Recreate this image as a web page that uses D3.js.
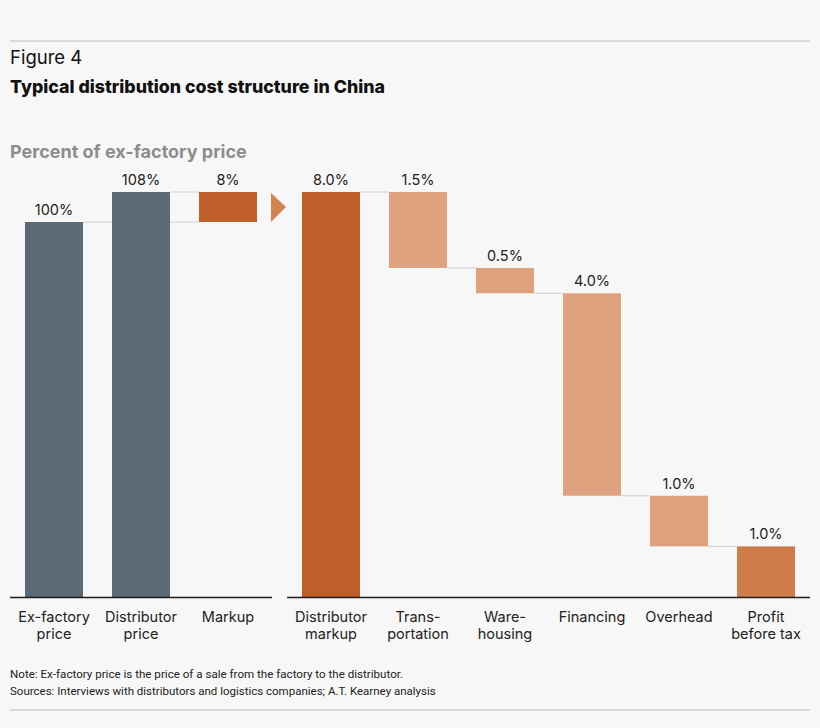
<!DOCTYPE html>
<html>
<head>
<meta charset="utf-8">
<script src="https://cdn.jsdelivr.net/npm/d3@7"></script>
<style>
  body { margin: 0; background: #f7f7f7; }
  svg { display: block; font-family: Inter, "Open Sans", sans-serif; }
</style>
</head>
<body>
<script>
// left panel: price build-up
const leftCats = ["Ex-factory|price", "Distributor|price", "Markup"];
const leftStart = [0, 0, 100];
const leftEnd = [100, 108, 108];
const leftLabels = ["100%", "108%", "8%"];

// right panel: how the 8% markup splits
const rightCats = ["Distributor|markup", "Trans-|portation", "Ware-|housing", "Financing", "Overhead", "Profit|before tax"];
const rightValues = [8.0, 1.5, 0.5, 4.0, 1.0, 1.0];
const rightLabels = ["8.0%", "1.5%", "0.5%", "4.0%", "1.0%", "1.0%"];

const W = 820, H = 728;
const base = 597;

const svg = d3.select("body").append("svg").attr("width", W).attr("height", H);
svg.append("rect").attr("width", W).attr("height", H).attr("fill", "#f7f7f7");

// rules
svg.append("line").attr("x1", 10).attr("x2", 810).attr("y1", 41).attr("y2", 41)
  .attr("stroke", "#b9b9b9").attr("stroke-width", 1.2);
svg.append("line").attr("x1", 10).attr("x2", 810).attr("y1", 710).attr("y2", 710)
  .attr("stroke", "#b9b9b9").attr("stroke-width", 1.2);

svg.append("text").attr("x", 10).attr("y", 64).attr("font-size", 18.5).attr("fill", "#111")
  .text("Figure 4");
svg.append("text").attr("x", 10).attr("y", 93).attr("font-size", 17.8).attr("font-weight", 800)
  .attr("fill", "#111").text("Typical distribution cost structure in China");
svg.append("text").attr("x", 10).attr("y", 158).attr("font-size", 18).attr("font-weight", 700)
  .attr("fill", "#8d8d8d").text("Percent of ex-factory price");

// scales
const xL = d3.scaleBand().domain(leftCats).range([10.5, 271.5]).paddingInner(1 / 3).paddingOuter(1 / 6);
const yL = d3.scaleLinear().domain([0, 100]).range([base, 222]);
const xR = d3.scaleBand().domain(rightCats).range([287.5, 809.5]).paddingInner(1 / 3).paddingOuter(1 / 6);
const yR = d3.scaleLinear().domain([0, 8]).range([base, 192]);

// waterfall extents for right panel
const rightStart = [], rightEnd = [];
let level = rightValues[0];
rightValues.forEach((v, i) => {
  if (i === 0) { rightStart.push(0); rightEnd.push(v); }
  else if (i === rightValues.length - 1) { rightStart.push(0); rightEnd.push(v); }
  else { rightStart.push(level - v); rightEnd.push(level); level -= v; }
});

const connector = "#cfcfcf";
const g = svg.append("g");

// connectors, left
g.append("line").attr("x1", xL(leftCats[0]) + xL.bandwidth()).attr("x2", xL(leftCats[2]))
  .attr("y1", yL(100)).attr("y2", yL(100)).attr("stroke", connector);
g.append("line").attr("x1", xL(leftCats[1]) + xL.bandwidth()).attr("x2", xL(leftCats[2]))
  .attr("y1", yL(108)).attr("y2", yL(108)).attr("stroke", connector);

// connectors, right
for (let i = 0; i < rightCats.length - 1; i++) {
  const lv = i === 0 ? rightEnd[0] : rightStart[i];
  g.append("line").attr("x1", xR(rightCats[i]) + xR.bandwidth()).attr("x2", xR(rightCats[i + 1]))
    .attr("y1", yR(lv)).attr("y2", yR(lv)).attr("stroke", connector);
}

const leftColors = ["#5a6a76", "#5a6a76", "#c05e2a"];
const rightColors = ["#c05e2a", "#dfa27f", "#dfa27f", "#dfa27f", "#dfa27f", "#cf7c4b"];

g.selectAll(".barL").data(leftCats).join("rect")
  .attr("x", d => xL(d)).attr("width", xL.bandwidth())
  .attr("y", (d, i) => yL(leftEnd[i])).attr("height", (d, i) => yL(leftStart[i]) - yL(leftEnd[i]))
  .attr("fill", (d, i) => leftColors[i]);

g.selectAll(".barR").data(rightCats).join("rect")
  .attr("x", d => xR(d)).attr("width", xR.bandwidth())
  .attr("y", (d, i) => yR(rightEnd[i])).attr("height", (d, i) => yR(rightStart[i]) - yR(rightEnd[i]))
  .attr("fill", (d, i) => rightColors[i]);

// value labels
g.selectAll(".valL").data(leftCats).join("text")
  .attr("x", d => xL(d) + xL.bandwidth() / 2).attr("y", (d, i) => yL(leftEnd[i]) - 7)
  .attr("text-anchor", "middle").attr("font-size", 14.5).attr("fill", "#222")
  .text((d, i) => leftLabels[i]);
g.selectAll(".valR").data(rightCats).join("text")
  .attr("x", d => xR(d) + xR.bandwidth() / 2).attr("y", (d, i) => yR(rightEnd[i]) - 7)
  .attr("text-anchor", "middle").attr("font-size", 14.5).attr("fill", "#222")
  .text((d, i) => rightLabels[i]);

// arrow between panels
const ax = 271;
g.append("path")
  .attr("d", `M${ax},${yL(108) + 1}L${ax + 15},${(yL(108) + yL(100)) / 2}L${ax},${yL(100)}Z`)
  .attr("fill", "#d5834f");

// axes
function axis(scale, x1, x2) {
  const a = svg.append("g").attr("transform", `translate(0,${base})`)
    .call(d3.axisBottom(scale).tickSize(0).tickFormat(""));
  a.select(".domain").attr("d", `M${x1},0.5H${x2}`).attr("stroke", "#1e1e1e").attr("stroke-width", 1.6);
  a.selectAll(".tick").each(function (d) {
    const t = d3.select(this).append("text").attr("fill", "#222").attr("font-size", 14.5)
      .attr("text-anchor", "middle").attr("font-family", "Inter, sans-serif");
    d.split("|").forEach((line, k) => {
      t.append("tspan").attr("x", 0).attr("y", 25 + k * 17).text(line);
    });
  });
}
axis(xL, 10, 272);
axis(xR, 287, 810);

// notes
svg.append("text").attr("x", 10).attr("y", 678).attr("font-size", 11.6).attr("fill", "#222")
  .attr("font-family", "Roboto, sans-serif")
  .text("Note: Ex-factory price is the price of a sale from the factory to the distributor.");
svg.append("text").attr("x", 10).attr("y", 695).attr("font-size", 11.5).attr("fill", "#222")
  .attr("font-family", "Roboto, sans-serif")
  .text("Sources: Interviews with distributors and logistics companies; A.T. Kearney analysis");
</script>
</body>
</html>
